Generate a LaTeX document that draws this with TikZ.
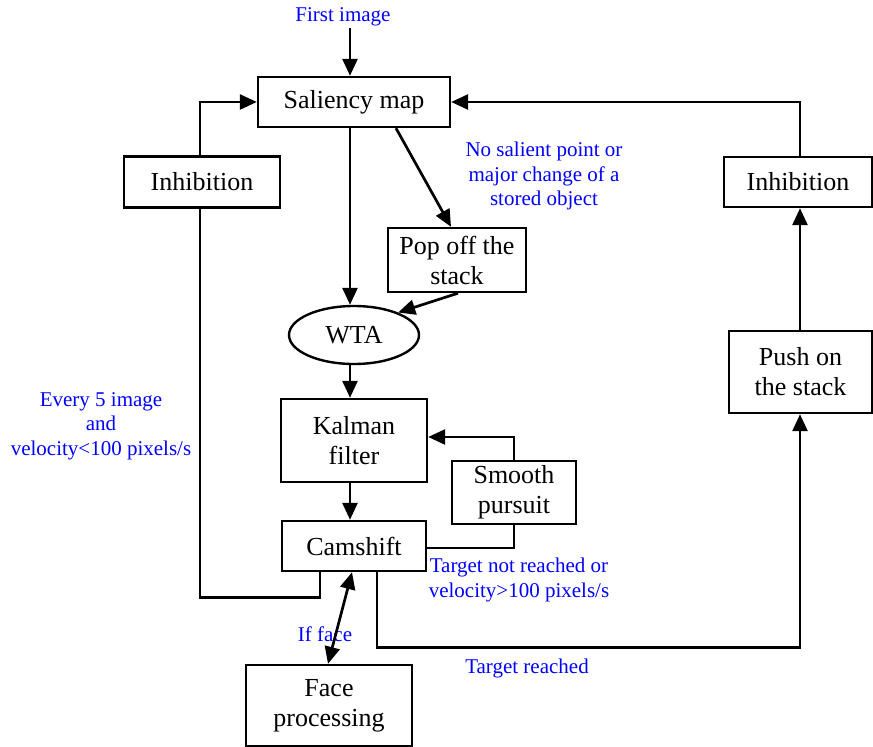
\documentclass[tikz,border=0pt]{standalone}
\usepackage{fontspec}
\setmainfont{Liberation Serif}
\usetikzlibrary{arrows.meta,shapes.geometric}
\begin{document}
\begin{tikzpicture}[x=1pt,y=-1pt,
  box/.style={draw,line width=2.4pt,rectangle,inner sep=0pt,align=center,
    font=\fontsize{26}{30}\selectfont},
  lbl/.style={text=blue,inner sep=0pt,align=center,font=\fontsize{21}{24.5}\selectfont},
  conn/.style={line width=2.7pt},
  arr/.style={conn,-{Triangle[length=17pt,width=15pt]}},
  darr/.style={conn,{Triangle[length=17pt,width=15pt]}-{Triangle[length=17pt,width=15pt]}}]
\useasboundingbox (0,0) rectangle (873,747);
% nodes
\node[box,minimum width=192pt,minimum height=50pt] (sal) at (354,102) {Saliency map};
\node[box,minimum width=156pt,minimum height=51pt] (inhL) at (202,182) {Inhibition};
\node[box,minimum width=148pt,minimum height=50pt] (inhR) at (798,182) {Inhibition};
\node[box,minimum width=138pt,minimum height=64pt] (pop) at (457,260) {Pop off the\\stack};
\node[box,ellipse,minimum width=130pt,minimum height=58pt] (wta) at (354,335) {WTA};
\node[box,minimum width=143pt,minimum height=82pt] (push) at (800.5,372) {Push on\\the stack};
\node[box,minimum width=146pt,minimum height=83pt] (kal) at (354,440.5) {Kalman\\filter};
\node[box,minimum width=124pt,minimum height=63pt] (smooth) at (514,492.5) {Smooth\\pursuit};
\node[box,minimum width=144pt,minimum height=50pt] (cam) at (354,546) {Camshift};
\node[box,minimum width=166pt,minimum height=81pt] (face) at (329,705.5) {Face\\processing};
% labels
\node[lbl] (first) at (343,17) {First image};
\node[lbl] (nosal) at (544,176) {No salient point or\\major change of a\\stored object};
\node[lbl] (every) at (101,426) {Every 5 image\\and\\velocity<100 pixels/s};
\node[lbl] (tnr) at (519,580) {Target not reached or\\velocity>100 pixels/s};
\node[lbl] (ifface) at (325,634) {If face};
\node[lbl] (treached) at (527,668) {Target reached};
% connectors
\draw[arr] ([xshift=-4pt,yshift=-2pt]sal.north |- first.south) -- ([xshift=-4pt]sal.north);
\draw[arr] ([xshift=-4pt]sal.south) -- ([xshift=-4pt]wta.north);
\draw[arr] ([xshift=42pt]sal.south) -- ([xshift=-6pt]pop.north);
\draw[arr] ([xshift=1pt]pop.south) -- (wta.27);
\draw[arr] ([xshift=-4pt]wta.south) -- ([xshift=-4pt]kal.north);
\draw[arr] ([xshift=-4pt]kal.south) -- ([xshift=-4pt]cam.north);
\draw[conn] ([yshift=-2pt]cam.east) -| (smooth.south);
\draw[arr] (smooth.north) |- ([yshift=3.5pt]kal.east);
\draw[conn] ([xshift=-34pt]cam.south) -- ++(0,25) -| ([xshift=-2pt]inhL.south);
\draw[arr] ([xshift=-2pt]inhL.north) |- (sal.west);
\draw[arr] ([xshift=23pt]cam.south) -- ++(0,75) -| ([xshift=-0.5pt]push.south);
\draw[arr] ([xshift=-0.5pt]push.north) -- ([xshift=-0.5pt]push.north |- inhR.south);
\draw[arr] ([xshift=-0.5pt]push.north |- inhR.north) |- (sal.east);
\draw[darr] ([xshift=-2pt]cam.south) -- ([xshift=-1pt]face.north);
\end{tikzpicture}
\end{document}
